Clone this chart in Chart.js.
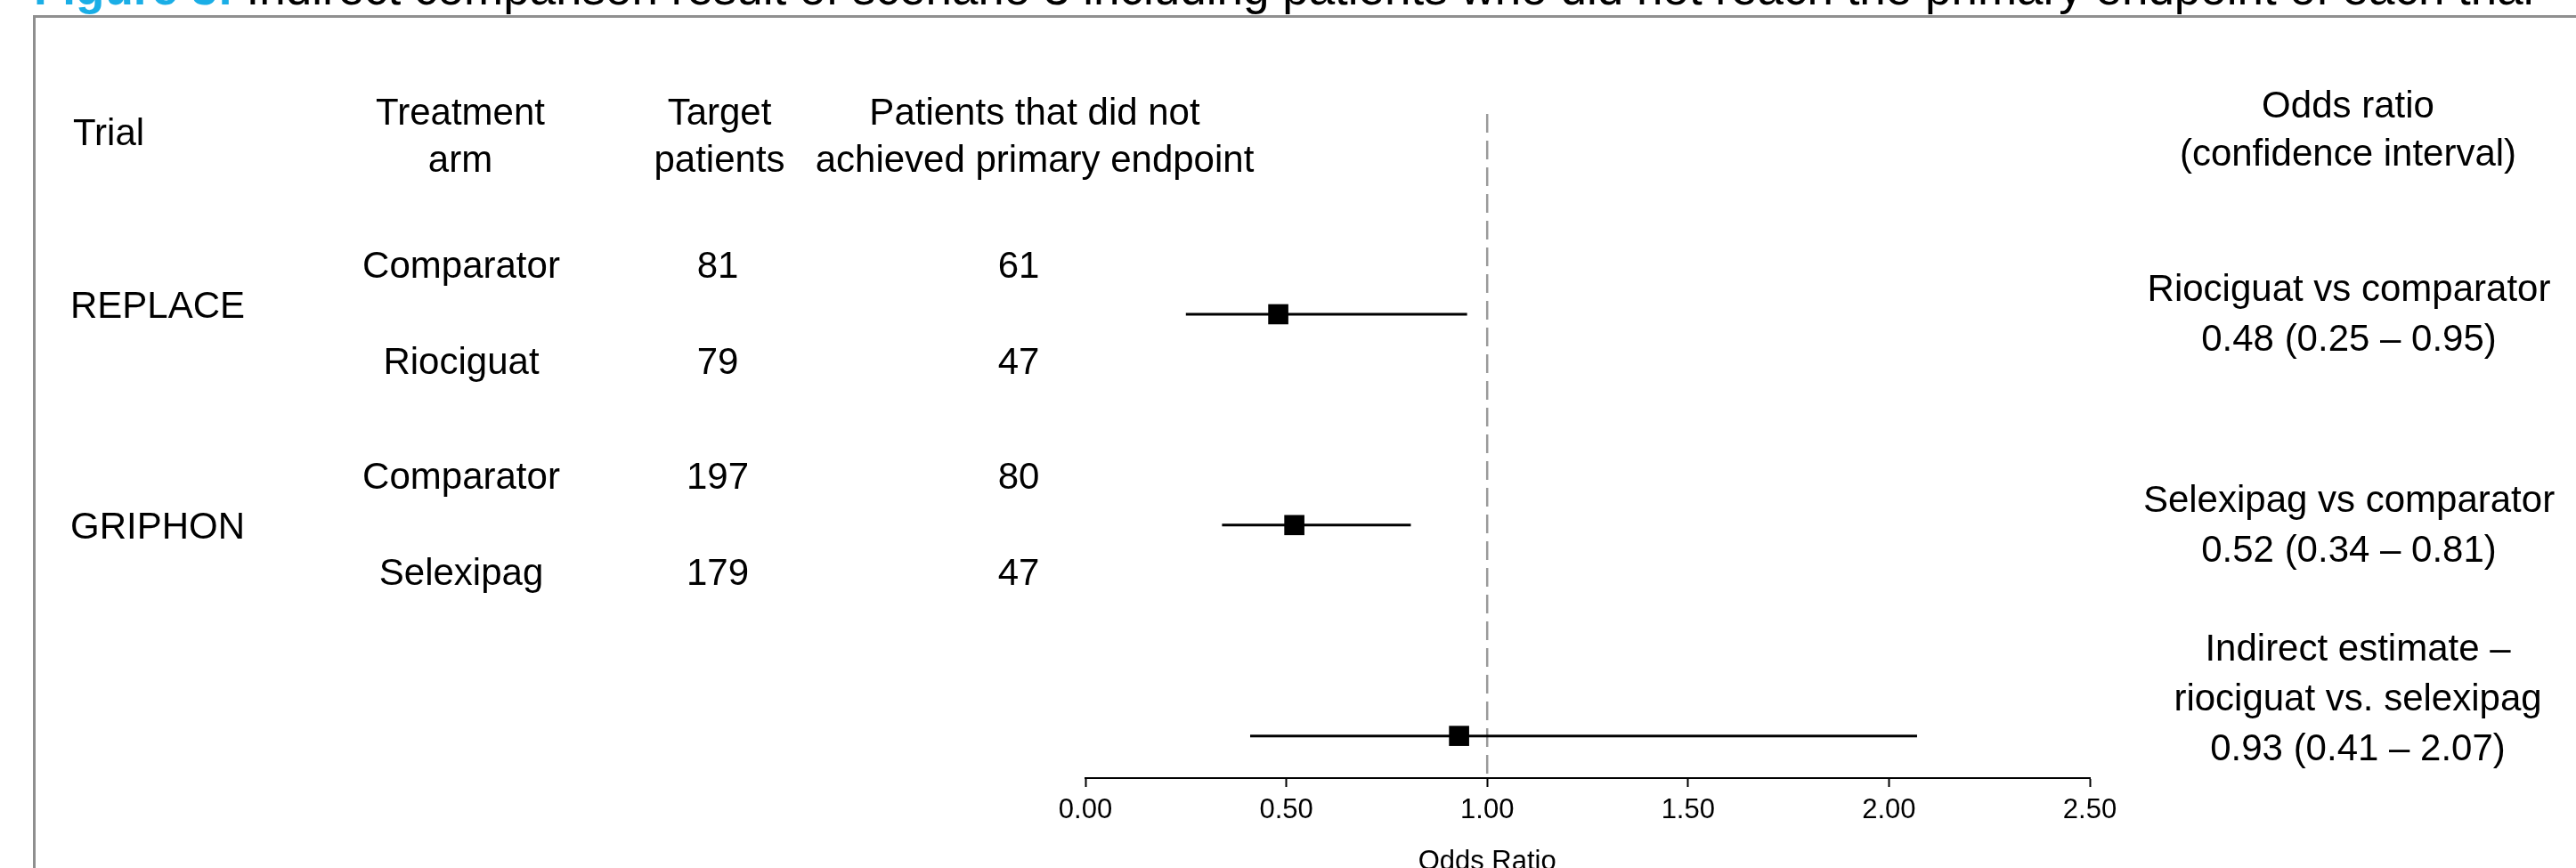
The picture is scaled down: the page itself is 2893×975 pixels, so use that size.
<!DOCTYPE html>
<html>
<head>
<meta charset="utf-8">
<script src="https://cdn.jsdelivr.net/npm/chart.js@4.4.1/dist/chart.umd.min.js"></script>
<style>
  html, body { margin: 0; padding: 0; background: #fff; }
  canvas { display: block; }
</style>
</head>
<body>
<canvas id="chart" width="2893" height="975"></canvas>
<script>
// table data
const trials = ['REPLACE', 'GRIPHON'];
const arms = [['Comparator', 'Riociguat'], ['Comparator', 'Selexipag']];
const targetPatients = [[81, 79], [197, 179]];
const notAchieved = [[61, 47], [80, 47]];

// forest data
const comparisons = [
  ['Riociguat vs comparator'],
  ['Selexipag vs comparator'],
  ['Indirect estimate \u2013', 'riociguat vs. selexipag']
];
const oddsRatios = [0.48, 0.52, 0.93];
const ciLower = [0.25, 0.34, 0.41];
const ciUpper = [0.95, 0.81, 2.07];
const xTicks = [0, 0.5, 1, 1.5, 2, 2.5];

const FONT = '"Liberation Sans", Arial, sans-serif';
const Y_MIN = 0.05, Y_MAX = 3.2;

function txt(ctx, s, x, y, size, align, color, bold) {
  ctx.font = (bold ? 'bold ' : '') + size + 'px ' + FONT;
  ctx.textAlign = align || 'left';
  ctx.textBaseline = 'alphabetic';
  ctx.fillStyle = color || '#000';
  ctx.fillText(s, x, y);
}

function fmt(v) { return v.toFixed(2); }

const frame = {
  id: 'frame',
  beforeDraw(chart) {
    const ctx = chart.ctx;
    ctx.save();
    ctx.fillStyle = '#fff';
    ctx.fillRect(0, 0, chart.width, chart.height);
    // caption, cut off by the top edge
    txt(ctx, 'Figure 3:', 38, 5, 53, 'left', '#1aaee6', true);
    ctx.font = 'bold 53px ' + FONT;
    const w = ctx.measureText('Figure 3: ').width;
    txt(ctx, 'Indirect comparison result of scenario 3 including patients who did not reach the primary endpoint of each trial', 38 + w, 5, 53, 'left', '#000');
    // box
    ctx.strokeStyle = '#8f8f8f';
    ctx.lineWidth = 3;
    ctx.beginPath();
    ctx.moveTo(38.5, chart.height + 5);
    ctx.lineTo(38.5, 18.5);
    ctx.lineTo(chart.width + 5, 18.5);
    ctx.stroke();
    ctx.restore();
  }
};

const table = {
  id: 'table',
  afterDraw(chart) {
    const ctx = chart.ctx;
    const ys = chart.scales.y;
    const xs = chart.scales.x;
    ctx.save();
    // headers
    txt(ctx, 'Trial', 82, 163, 42, 'left');
    txt(ctx, 'Treatment', 517, 140, 42, 'center');
    txt(ctx, 'arm', 517, 193, 42, 'center');
    txt(ctx, 'Target', 808, 140, 42, 'center');
    txt(ctx, 'patients', 808, 193, 42, 'center');
    txt(ctx, 'Patients that did not', 1162, 140, 42, 'center');
    txt(ctx, 'achieved primary endpoint', 1162, 193, 42, 'center');
    txt(ctx, 'Odds ratio', 2637, 132, 42, 'center');
    txt(ctx, '(confidence interval)', 2637, 186, 42, 'center');

    trials.forEach((t, i) => {
      const yc = ys.getPixelForValue(i + 1);
      txt(ctx, t, 79, yc + (i === 0 ? -11 : 0) + 15, 42, 'left');
      [-56, 52].forEach((off, j) => {
        const b = yc + off + 15;
        txt(ctx, arms[i][j], 518, b, 42, 'center');
        txt(ctx, String(targetPatients[i][j]), 806, b, 42, 'center');
        txt(ctx, String(notAchieved[i][j]), 1144, b, 42, 'center');
      });
    });

    comparisons.forEach((lines, i) => {
      const yc = ys.getPixelForValue(i + 1);
      const all = lines.concat([fmt(oddsRatios[i]) + ' (' + fmt(ciLower[i]) + ' \u2013 ' + fmt(ciUpper[i]) + ')']);
      const cx = i === 2 ? 2648 : 2638;
      const last = i === 2 ? 12 : 26;
      all.forEach((s, k) => {
        const capY = yc + last - (all.length - 1 - k) * 56;
        txt(ctx, s, cx, capY + 15, 42, 'center');
      });
    });

    // axis title, centred under the null line
    txt(ctx, 'Odds Ratio', xs.getPixelForValue(1), 977, 31, 'center');
    ctx.restore();
  }
};

const rows = oddsRatios.map((v, i) => i + 1);

const datasets = [
  {
    label: 'OR',
    data: oddsRatios.map((v, i) => ({ x: v, y: rows[i] })),
    pointStyle: 'rect',
    pointRadius: 16,
    pointBackgroundColor: '#000',
    pointBorderWidth: 0,
    showLine: false
  }
];
ciLower.forEach((lo, i) => {
  datasets.push({
    label: 'CI ' + (i + 1),
    data: [{ x: lo, y: rows[i] }, { x: ciUpper[i], y: rows[i] }],
    showLine: true,
    borderColor: '#000',
    borderWidth: 3,
    pointRadius: 0
  });
});
datasets.push({
  label: 'null',
  data: [{ x: 1, y: Y_MIN }, { x: 1, y: Y_MAX }],
  showLine: true,
  borderColor: '#9a9a9a',
  borderWidth: 2.5,
  borderDash: [21, 9],
  pointRadius: 0
});

new Chart(document.getElementById('chart'), {
  type: 'scatter',
  data: { datasets: datasets },
  options: {
    responsive: false,
    animation: false,
    layout: { padding: { left: 1219, right: 546, top: 128, bottom: 51 } },
    plugins: { legend: { display: false }, tooltip: { enabled: false } },
    scales: {
      x: {
        type: 'linear',
        min: 0,
        max: 2.5,
        afterBuildTicks: s => { s.ticks = xTicks.map(v => ({ value: v })); },
        afterFit: s => { s.height = 50; },
        ticks: {
          callback: v => fmt(v),
          font: { family: FONT, size: 31 },
          color: '#000',
          padding: 8,
          autoSkip: false,
          maxRotation: 0
        },
        grid: { drawOnChartArea: false, drawTicks: true, tickLength: 10, tickColor: '#000', tickWidth: 2 },
        border: { display: true, color: '#000', width: 2 }
      },
      y: {
        type: 'linear',
        min: Y_MIN,
        max: Y_MAX,
        reverse: true,
        display: false
      }
    }
  },
  plugins: [frame, table]
});
</script>
</body>
</html>
